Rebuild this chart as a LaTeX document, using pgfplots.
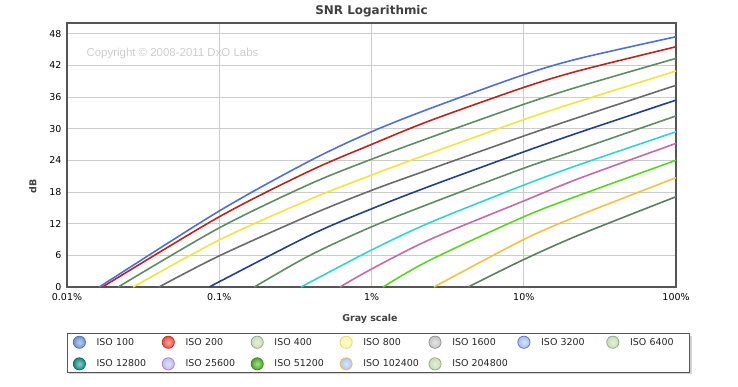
\documentclass[border=0pt]{standalone}
\usepackage{fontspec}
\setmainfont{DejaVu Sans}
\newfontfamily\arialf{Liberation Sans}
\usepackage{pgfplots}
\pgfplotsset{compat=1.18}
\usetikzlibrary{shadows}

\definecolor{c100}{HTML}{4F6FD8}
\definecolor{c200}{HTML}{C0231C}
\definecolor{c400}{HTML}{5E8C62}
\definecolor{c800}{HTML}{F2E43C}
\definecolor{c1600}{HTML}{6A6A6A}
\definecolor{c3200}{HTML}{213F8F}
\definecolor{c6400}{HTML}{5E8C62}
\definecolor{c12800}{HTML}{2FD6CF}
\definecolor{c25600}{HTML}{C86AA4}
\definecolor{c51200}{HTML}{5AD61E}
\definecolor{c102400}{HTML}{F6C23E}
\definecolor{c204800}{HTML}{5A7F5C}
\definecolor{frame}{HTML}{555555}
\definecolor{gridc}{HTML}{CCCCCC}
% legend ball colours
\definecolor{l100}{HTML}{6F93D8}\definecolor{b100}{HTML}{4A6FB0}
\definecolor{l200}{HTML}{F04B3C}\definecolor{b200}{HTML}{C03020}
\definecolor{l400}{HTML}{C8DCB4}\definecolor{b400}{HTML}{8FA888}
\definecolor{l800}{HTML}{FFF6A0}\definecolor{b800}{HTML}{E0D480}
\definecolor{l1600}{HTML}{C4C4C4}\definecolor{b1600}{HTML}{909090}
\definecolor{l3200}{HTML}{A8BCF4}\definecolor{b3200}{HTML}{5070C0}
\definecolor{l12800}{HTML}{108A80}\definecolor{b12800}{HTML}{0A6A60}
\definecolor{l25600}{HTML}{B8C0F8}\definecolor{b25600}{HTML}{C070B0}
\definecolor{l51200}{HTML}{48A820}\definecolor{b51200}{HTML}{388818}
\definecolor{l102400}{HTML}{B0C4F4}\definecolor{b102400}{HTML}{F0C040}

\makeatletter
\tikzset{noshadow/.code={\let\tikz@preactions\pgfutil@empty}}
\makeatother

\newcommand{\legball}[2]{%
  \path[draw=none, fill=none, noshadow] (0bp,-8.5bp) rectangle (29.3bp,8.5bp);
  \draw[noshadow, draw=#2, line width=0.7bp, inner color=white!55!#1, outer color=#1] (12bp,0bp) circle (6.1bp);}

\begin{document}
\begin{tikzpicture}[x=1bp,y=1bp]
\useasboundingbox (0,0) rectangle (738,386);
\begin{axis}[
  at={(67bp,99bp)}, anchor=south west,
  scale only axis, width=609bp, height=264bp,
  xmode=log, xmin=0.01, xmax=100, ymin=0, ymax=50,
  xtick={0.01,0.1,1,10,100},
  xticklabels={0.01\%,0.1\%,1\%,10\%,100\%},
  ytick={0,6,12,18,24,30,36,42,48},
  log ticks with fixed point,
  /pgf/number format/assume math mode=true,
  minor xtick={}, 
  major tick length=0pt, minor tick length=0pt,
  xmajorgrids, ymajorgrids,
  major grid style={draw=gridc, line width=0.8bp},
  axis line style={draw=frame, line width=2bp},
  tick label style={font=\fontsize{9.5}{11}\selectfont, text=black},
  xticklabel style={yshift=-3bp},
  yticklabel style={xshift=-2bp},
  title={SNR Logarithmic},
  title style={at={(axis description cs:0.5,1.022)}, anchor=center, font=\bfseries\fontsize{12}{14}\selectfont, text=black!75},
  xlabel={Gray scale},
  xlabel style={at={(axis description cs:0.4975,-0.121)}, anchor=center, font=\bfseries\fontsize{9.5}{11}\selectfont, text=black!75},
  ylabel={dB},
  ylabel style={at={(axis description cs:-0.056,0.38)}, anchor=center, rotate=0, font=\bfseries\fontsize{9.5}{11}\selectfont, text=black!75},
  legend columns=7,
  legend cell align=left,
  legend style={at={(axis description cs:0,-0.1755)}, anchor=north west,
    draw=frame, line width=0.8bp, fill=white,
    inner xsep=0pt, inner ysep=0pt,
    row sep=4.6bp,
    drop shadow={shadow xshift=2bp, shadow yshift=-2bp, opacity=0.35},
    nodes={inner xsep=0pt, inner ysep=0pt, text width=59.6bp, align=left, anchor=west,
      font=\fontsize{9.5}{11}\selectfont, text=black!85}},
  every axis plot/.append style={line width=1.6bp, smooth, tension=0.5},
  clip=true,
]
\addplot[c100, legend image code/.code={\legball{l100}{b100}}] coordinates {(0.0163,0) (0.1,14.4) (0.394,23.9) (1,29.4) (2.42,33.8) (10,40.2) (23.3,43.3) (100,47.4)};
\addlegendentry{ISO 100}
\addplot[c200, legend image code/.code={\legball{l200}{b200}}] coordinates {(0.0171,0) (0.1,13.3) (0.394,22.0) (1,27.0) (2.42,31.5) (10,37.8) (23.3,41.0) (100,45.5)};
\addlegendentry{ISO 200}
\addplot[c400, legend image code/.code={\legball{l400}{b400}}] coordinates {(0.0217,0) (0.1,11.2) (0.394,19.5) (1,24.2) (2.42,28.3) (10,34.6) (23.3,38.0) (100,43.3)};
\addlegendentry{ISO 400}
\addplot[c800, legend image code/.code={\legball{l800}{b800}}] coordinates {(0.0272,0) (0.1,8.9) (0.394,16.6) (1,21.2) (2.42,25.3) (10,31.7) (23.3,35.2) (100,40.9)};
\addlegendentry{ISO 800}
\addplot[c1600, legend image code/.code={\legball{l1600}{b1600}}] coordinates {(0.0402,0) (0.1,5.9) (0.394,13.6) (1,18.3) (2.42,22.3) (10,28.6) (23.3,32.2) (100,38.2)};
\addlegendentry{ISO 1600}
\addplot[c3200, legend image code/.code={\legball{l3200}{b3200}}] coordinates {(0.0859,0) (0.394,9.8) (1,14.8) (2.42,19.1) (10,25.6) (23.3,29.3) (100,35.4)};
\addlegendentry{ISO 3200}
\addplot[c6400, legend image code/.code={\legball{l400}{b400}}] coordinates {(0.17,0) (0.394,6.0) (1,11.4) (2.42,15.8) (10,22.5) (23.3,26.1) (100,32.4)};
\addlegendentry{ISO 6400}
\addplot[c12800, legend image code/.code={\legball{l12800}{b12800}}] coordinates {(0.344,0) (1,7.0) (2.42,12.2) (10,19.3) (23.3,23.2) (100,29.4)};
\addlegendentry{ISO 12800}
\addplot[c25600, legend image code/.code={\legball{l25600}{b25600}}] coordinates {(0.621,0) (1,3.4) (2.42,9.0) (10,16.3) (23.3,20.6) (100,27.2)};
\addlegendentry{ISO 25600}
\addplot[c51200, legend image code/.code={\legball{l51200}{b51200}}] coordinates {(1.19,0) (2.42,5.1) (10,13.3) (23.3,17.4) (100,24.0)};
\addlegendentry{ISO 51200}
\addplot[c102400, legend image code/.code={\legball{l102400}{b102400}}] coordinates {(2.57,0) (10,9.0) (23.3,13.6) (100,20.7)};
\addlegendentry{ISO 102400}
\addplot[c204800, legend image code/.code={\legball{l400}{b400}}] coordinates {(4.31,0) (10,5.2) (23.3,9.9) (100,17.1)};
\addlegendentry{ISO 204800}
\node[anchor=west, text=black!20, font=\arialf\fontsize{11.5}{13}\selectfont] at (rel axis cs:0.0263,0.8826) {Copyright © 2008-2011 DxO Labs};
\end{axis}
\end{tikzpicture}
\end{document}
